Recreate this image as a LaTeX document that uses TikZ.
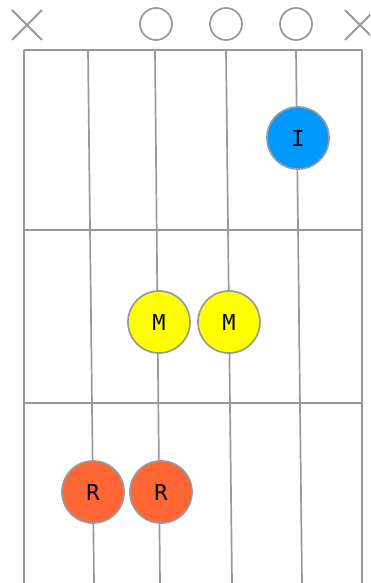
\documentclass[tikz,border=0pt]{standalone}
\usepackage{fontspec}
\setmonofont{DejaVu Sans Mono}
\definecolor{gridgrey}{HTML}{999999}
\definecolor{dotblue}{HTML}{0099FF}
\definecolor{dotyellow}{HTML}{FFFF00}
\definecolor{dotred}{HTML}{FF6633}
\tikzset{
  gridline/.style={draw=gridgrey, line width=1.7pt},
  mutemark/.style={draw=gridgrey, line width=1.8pt},
  openmark/.style={circle, draw=gridgrey, line width=1.7pt, minimum width=32pt, inner sep=0pt},
  fingerdot/.style={circle, draw=gridgrey, line width=1.7pt, minimum size=62pt, inner sep=0pt,
    font=\ttfamily\fontsize{22}{22}\selectfont},
}
\begin{document}
\begin{tikzpicture}[x=1pt, y=-1pt]
  \useasboundingbox (0,0) rectangle (370,583);
  \fill[white] (0,0) rectangle (370,583);
  \clip (0,0) rectangle (370,583);

  % string end points (nut and bottom edge)
  \coordinate (s1t) at (24,50);  \coordinate (s1b) at (24,583);
  \coordinate (s2t) at (88,50);  \coordinate (s2b) at (94,583);
  \coordinate (s3t) at (155,50); \coordinate (s3b) at (160,583);
  \coordinate (s4t) at (226,50); \coordinate (s4b) at (232,583);
  \coordinate (s5t) at (296,50); \coordinate (s5b) at (302,583);
  \coordinate (s6t) at (362,50); \coordinate (s6b) at (362,583);

  % frets
  \coordinate (f0l) at (24,50);  \coordinate (f0r) at (362,50);
  \coordinate (f1l) at (24,230); \coordinate (f1r) at (362,230);
  \coordinate (f2l) at (24,403); \coordinate (f2r) at (362,403);

  \foreach \i in {1,...,6} \draw[gridline] (s\i t) -- (s\i b);
  \foreach \i in {0,1,2} \draw[gridline] (f\i l) -- (f\i r);

  % muted strings
  \coordinate (xa1) at (12,10); \coordinate (xa2) at (42,40);
  \coordinate (xa3) at (42,10); \coordinate (xa4) at (12,40);
  \draw[mutemark] (xa1) -- (xa2) (xa3) -- (xa4);
  \coordinate (xb1) at (345,10); \coordinate (xb2) at (375,40);
  \coordinate (xb3) at (375,10); \coordinate (xb4) at (345,40);
  \draw[mutemark] (xb1) -- (xb2) (xb3) -- (xb4);

  % open strings
  \node[openmark, minimum height=30pt] (o3) at (156,24) {};
  \node[openmark, minimum height=30pt] (o4) at (226,24) {};
  \node[openmark, minimum height=30pt] (o5) at (296,24) {};

  % fingered notes
  \node[fingerdot, fill=dotblue]   (i5) at (298,138) {I};
  \node[fingerdot, fill=dotyellow] (m3) at (159,322) {M};
  \node[fingerdot, fill=dotyellow] (m4) at (229,322) {M};
  \node[fingerdot, fill=dotred]    (r2) at (93,492)  {R};
  \node[fingerdot, fill=dotred]    (r3) at (161,492) {R};
\end{tikzpicture}
\end{document}
